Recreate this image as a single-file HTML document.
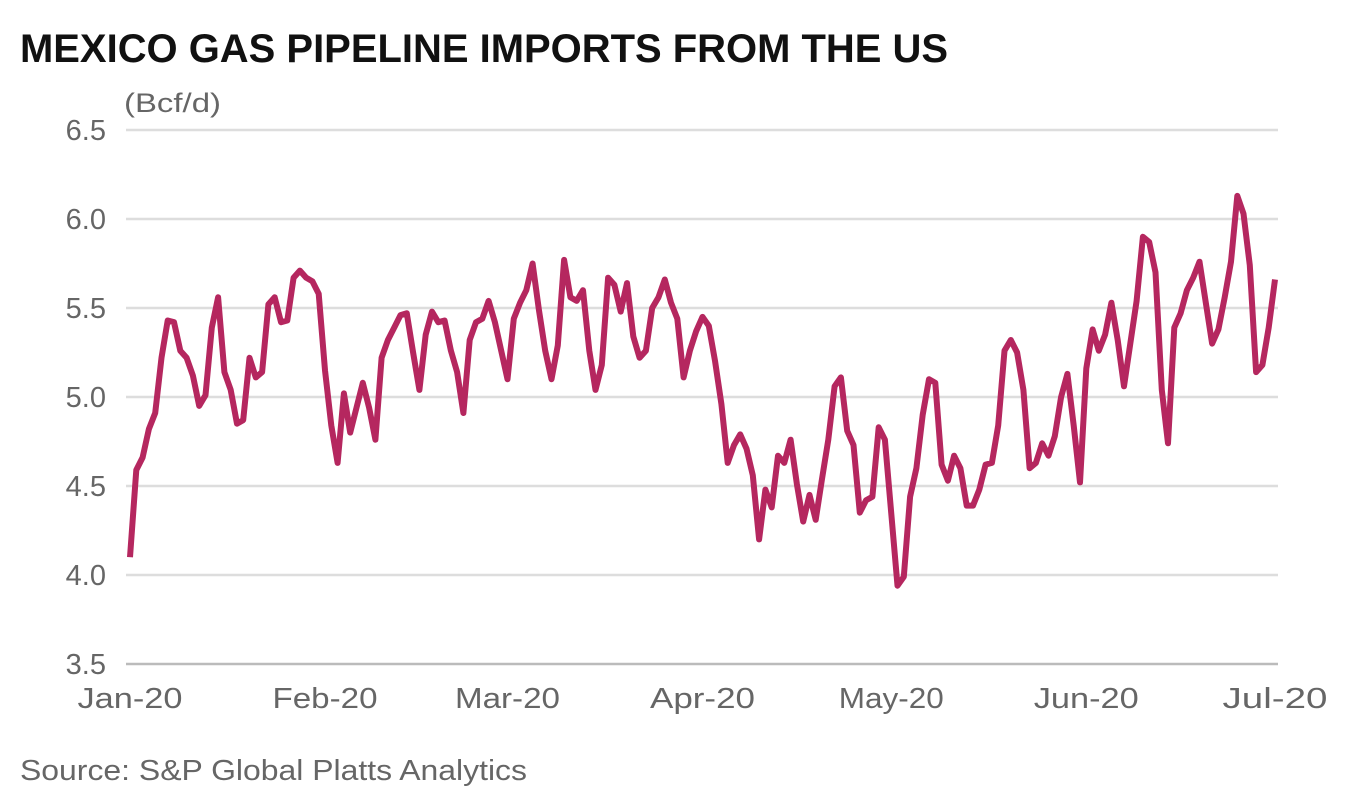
<!DOCTYPE html>
<html><head><meta charset="utf-8"><style>
body{margin:0;background:#fff;width:1346px;height:796px;overflow:hidden;font-family:"Liberation Sans",sans-serif}
</style></head><body>
<svg width="1346" height="796">
<text x="20" y="62" font-size="40" font-weight="bold" fill="#111" textLength="928" lengthAdjust="spacingAndGlyphs">MEXICO GAS PIPELINE IMPORTS FROM THE US</text>
<text x="124" y="112" font-size="27" fill="#666" textLength="97" lengthAdjust="spacingAndGlyphs">(Bcf/d)</text>
<g id="grid"></g><g id="ylab"></g><g id="xlab"></g>
<path id="line" fill="none" stroke="#b5275f" stroke-width="6" stroke-linejoin="round"/>
<text x="20" y="780" font-size="29" fill="#666" textLength="507" lengthAdjust="spacingAndGlyphs">Source: S&amp;P Global Platts Analytics</text>
</svg>
<script>
const values=[4.10,4.59,4.66,4.82,4.91,5.22,5.43,5.42,5.26,5.22,5.12,4.95,5.01,5.39,5.56,5.14,5.04,4.85,4.87,5.22,5.11,5.14,5.52,5.56,5.42,5.43,5.67,5.71,5.67,5.65,5.58,5.15,4.84,4.63,5.02,4.80,4.94,5.08,4.94,4.76,5.22,5.32,5.39,5.46,5.47,5.25,5.04,5.35,5.48,5.42,5.43,5.26,5.14,4.91,5.32,5.42,5.44,5.54,5.42,5.26,5.10,5.44,5.53,5.60,5.75,5.49,5.26,5.10,5.29,5.77,5.56,5.54,5.60,5.26,5.04,5.18,5.67,5.63,5.48,5.64,5.34,5.22,5.26,5.50,5.56,5.66,5.53,5.44,5.11,5.26,5.37,5.45,5.40,5.20,4.96,4.63,4.73,4.79,4.71,4.56,4.20,4.48,4.38,4.67,4.63,4.76,4.51,4.30,4.45,4.31,4.54,4.76,5.06,5.11,4.81,4.73,4.35,4.42,4.44,4.83,4.76,4.35,3.94,3.99,4.44,4.60,4.90,5.10,5.08,4.62,4.53,4.67,4.60,4.39,4.39,4.48,4.62,4.63,4.84,5.26,5.32,5.25,5.04,4.60,4.63,4.74,4.67,4.78,5.00,5.13,4.84,4.52,5.16,5.38,5.26,5.35,5.53,5.32,5.06,5.30,5.54,5.90,5.87,5.70,5.04,4.74,5.39,5.47,5.60,5.67,5.76,5.53,5.30,5.38,5.56,5.76,6.13,6.03,5.74,5.14,5.18,5.39,5.66];
const yTicks=[3.5,4.0,4.5,5.0,5.5,6.0,6.5];
const monthLabels=["Jan-20","Feb-20","Mar-20","Apr-20","May-20","Jun-20","Jul-20"];
const monthDays=[0,31,60,91,121,152,182];
const NS="http://www.w3.org/2000/svg";
const x0=130,x1=1275,dayMax=182,y0=664,y1=130,vMin=3.5,vMax=6.5;
const X=d=>x0+(x1-x0)*d/dayMax;
const Y=v=>y0-(y0-y1)*(v-vMin)/(vMax-vMin);
const grid=document.getElementById('grid'),yl=document.getElementById('ylab'),xl=document.getElementById('xlab');
yTicks.forEach((t,i)=>{
 const l=document.createElementNS(NS,'line');
 l.setAttribute('x1',126);l.setAttribute('x2',1278);l.setAttribute('y1',Y(t));l.setAttribute('y2',Y(t));
 l.setAttribute('stroke',i==0?'#bbb':'#ddd');l.setAttribute('stroke-width',2.5);
 
 
 grid.appendChild(l);
 const tx=document.createElementNS(NS,'text');
 tx.setAttribute('x',106);tx.setAttribute('y',Y(t)+10);tx.setAttribute('text-anchor','end');
 tx.setAttribute('font-size',29);tx.setAttribute('fill','#666');tx.textContent=t.toFixed(1);
 
 
 yl.appendChild(tx);
});
monthLabels.forEach((m,i)=>{
 const tx=document.createElementNS(NS,'text');
 tx.setAttribute('x',X(monthDays[i]));tx.setAttribute('y',708);tx.setAttribute('text-anchor','middle');
 tx.setAttribute('font-size',29);tx.setAttribute('fill','#666');tx.textContent=m;
 tx.setAttribute('textLength',105);tx.setAttribute('lengthAdjust','spacingAndGlyphs');
 
 
 xl.appendChild(tx);
});
document.getElementById('line').setAttribute('d',values.map((v,i)=>(i?'L':'M')+X(i).toFixed(1)+','+Y(v).toFixed(1)).join(''));
</script>
</body></html>
